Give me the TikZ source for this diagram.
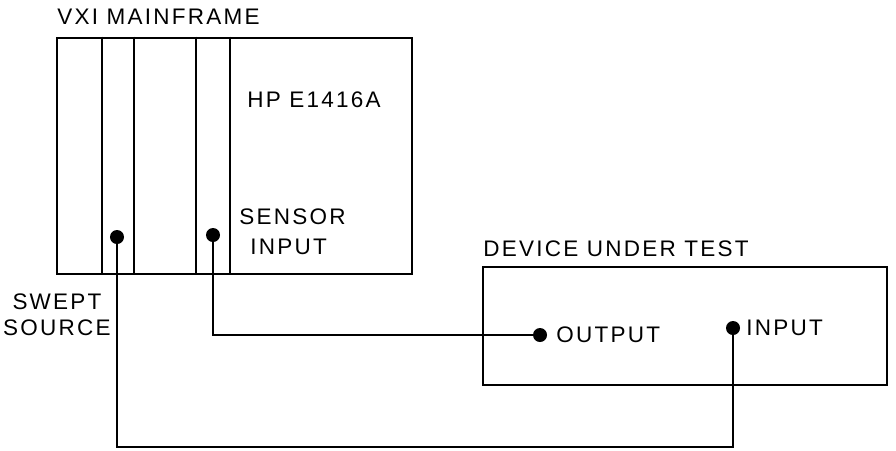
\documentclass[tikz,border=0pt]{standalone}
\usepackage{fontspec}
\setmainfont[LetterSpace=10]{Liberation Sans}
\usetikzlibrary{positioning}

\begin{document}
\begin{tikzpicture}[
        x=0.025cm, y=-0.025cm,
        unit/.style={
          draw,
          rectangle,
          line width=2pt,
          inner sep=0pt
        },
        slot/.style={line width=1.5pt},
        port/.style={
          circle,
          fill,
          inner sep=0pt,
          minimum size=0.35cm
        },
        wire/.style={line width=1.4pt},
        lbl/.style={font=\fontsize{16}{18.5}\selectfont, inner sep=0pt, anchor=west}
      ]
      \useasboundingbox (0,0) rectangle (896,450);

      % Main units
      \node[unit, minimum width=8.875cm, minimum height=5.9cm] (mainframe) at (234.5,156) {};
      \node[unit, minimum width=10.1cm, minimum height=2.95cm] (dut) at (685,326) {};

      % Card slots in the mainframe
      \foreach \x in {102,134,196,230}
        \draw[slot] (mainframe.north -| \x,0) -- (mainframe.south -| \x,0);

      % Labels
      \node[lbl] (mflabel) at (57,17) {VXI MAINFRAME};
      \node[lbl] (card) at (247,100) {HP E1416A};
      \node[lbl] (sensor) at (239,217) {SENSOR};
      \node[lbl] (sensorin) at (250,247) {INPUT};
      \node[lbl, anchor=center, align=center] (swept) at (57,315) {SWEPT\\SOURCE};
      \node[lbl] (dutlabel) at (483,249) {DEVICE UNDER TEST};

      % Connection points
      \node[port] (src) at (117,237) {};
      \node[port] (sen) at (213,235) {};
      \node[port] (out) at (540,335) {};
      \node[port] (in) at (733,328) {};
      \node[lbl, right=0.4cm of out.center] (outlabel) {OUTPUT};
      \node[lbl, right=0.33cm of in.center] (inlabel) {INPUT};

      \coordinate (bend) at (733,447);

      % Cables
      \draw[wire] (sen) |- (out);
      \draw[wire] (src) |- (bend) -- (in);

    \end{tikzpicture}
\end{document}
